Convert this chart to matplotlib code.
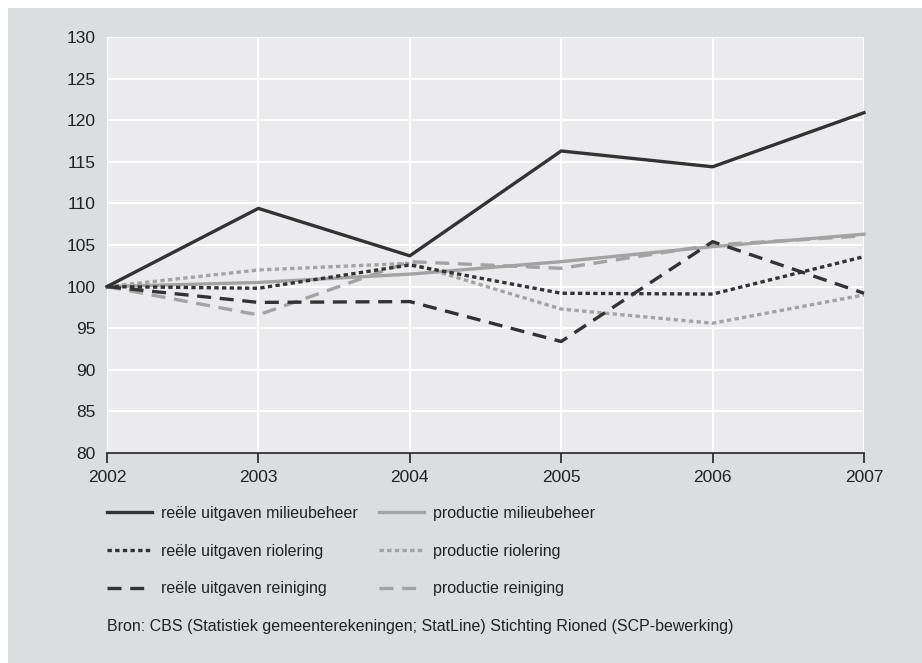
#!/usr/bin/env python3
import matplotlib
matplotlib.use('Agg')
import matplotlib.pyplot as plt
from matplotlib.lines import Line2D
from matplotlib.patches import Rectangle

# Data (index 2002 = 100)
years = [2002, 2003, 2004, 2005, 2006, 2007]
uitg_milieu = [100, 109.4, 103.7, 116.3, 114.4, 120.9]
uitg_riool = [100, 99.8, 102.6, 99.2, 99.1, 103.6]
uitg_reinig = [100, 98.1, 98.2, 93.4, 105.4, 99.2]
prod_milieu = [100, 100.5, 101.5, 103.0, 104.8, 106.3]
prod_riool = [100, 102.0, 102.8, 97.3, 95.6, 99.0]
prod_reinig = [100, 96.6, 103.0, 102.2, 105.0, 106.1]
yticks = [80, 85, 90, 95, 100, 105, 110, 115, 120, 125, 130]
source = "Bron: CBS (Statistiek gemeenterekeningen; StatLine) Stichting Rioned (SCP-bewerking)"

DARK = "#333333"
LIGHT = "#a3a3a3"
PANEL = "#dcdddf"
PLOTBG = "#ebebed"
TXT = "#222222"

plt.rcParams['font.family'] = ['Liberation Sans Narrow', 'Liberation Sans', 'DejaVu Sans']

W, H = 922, 663
fig = plt.figure(figsize=(W / 100, H / 100), dpi=100)
fig.patch.set_facecolor("white")
fig.patches.append(Rectangle((8 / W, 0), 1, 1 - 8 / H, transform=fig.transFigure,
                             facecolor=PANEL, edgecolor="none", zorder=-10))

ax = fig.add_axes([107 / W, 1 - 453 / H, (864 - 107) / W, (453 - 37) / H])
ax.set_facecolor(PLOTBG)
ax.set_xlim(2002, 2007)
ax.set_ylim(80, 130)
ax.set_yticks(yticks)
ax.set_xticks(years)
ax.grid(True, color="white", linewidth=1.5)
ax.set_axisbelow(True)
for s in ["left", "right", "top"]:
    ax.spines[s].set_visible(False)
ax.spines["bottom"].set_color(TXT)
ax.spines["bottom"].set_linewidth(1.2)
ax.tick_params(axis="y", length=0, pad=8, labelsize=12.5, labelcolor=TXT)
ax.tick_params(axis="x", length=7, width=1.2, color=TXT, direction="out",
               pad=5, labelsize=12.5, labelcolor=TXT)

lw = 2.4
dot = (0, (1.3, 1.0))
dash = (0, (4.2, 2.6))
series = [
    (prod_milieu, LIGHT, "-", "productie milieubeheer"),
    (prod_riool, LIGHT, dot, "productie riolering"),
    (prod_reinig, LIGHT, dash, "productie reiniging"),
    (uitg_riool, DARK, dot, "reële uitgaven riolering"),
    (uitg_reinig, DARK, dash, "reële uitgaven reiniging"),
    (uitg_milieu, DARK, "-", "reële uitgaven milieubeheer"),
]
handles = {}
for vals, col, ls, lab in series:
    ax.plot(years, vals, color=col, linestyle=ls, linewidth=lw, clip_on=False)
    handles[lab] = Line2D([], [], color=col, linestyle=ls, linewidth=lw)

col1 = ["reële uitgaven milieubeheer", "reële uitgaven riolering", "reële uitgaven reiniging"]
col2 = ["productie milieubeheer", "productie riolering", "productie reiniging"]
for labs, x0 in [(col1, 107), (col2, 379)]:
    leg = fig.legend([handles[l] for l in labs], labs, loc="upper left",
                     bbox_to_anchor=(x0 / W, 1 - 506 / H), frameon=False,
                     fontsize=11.5, handlelength=2.8, handletextpad=0.6,
                     labelspacing=1.42, borderpad=0, borderaxespad=0)
    for t in leg.get_texts():
        t.set_color(TXT)

fig.text(107 / W, 1 - 627 / H, source, fontsize=11.5, color=TXT, va="center")

plt.savefig("out.png", dpi=100)
